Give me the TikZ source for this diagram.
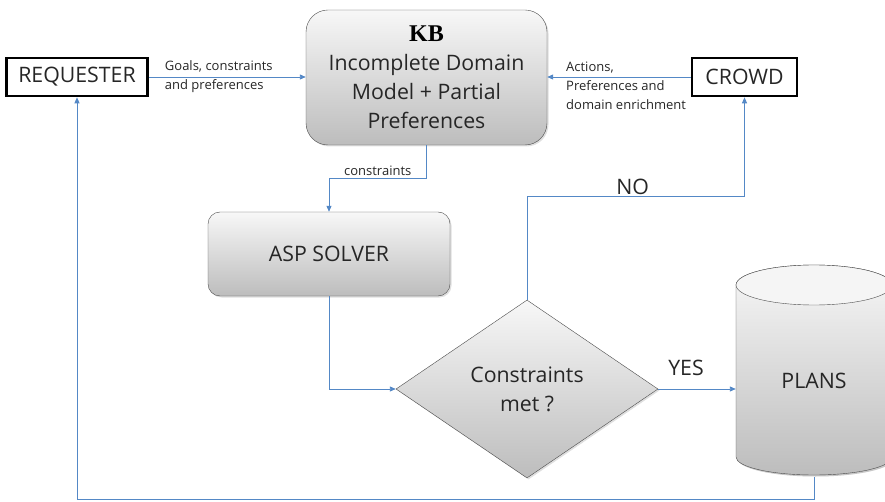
\documentclass[tikz,border=0pt]{standalone}
\usepackage{fontspec}
\setmainfont{Open Sans}
\newfontfamily\kbfont{Liberation Serif}
\usetikzlibrary{arrows.meta,shapes.geometric,shadows,calc}
\definecolor{flow}{RGB}{84,136,198}

\begin{document}
\begin{tikzpicture}[x=1pt,y=-1pt,
  big/.style={font=\fontsize{21.3}{29}\selectfont,text=black!85},
  lbl/.style={font=\fontsize{13}{19}\selectfont,align=left,inner sep=0pt,text=black!85},
  actor/.style={draw,line width=2.6pt,big,inner sep=0pt,minimum height=38pt},
  shade/.style={draw=black!70,top color=gray!6,bottom color=gray!52,drop shadow={opacity=0.25,shadow xshift=1.5pt,shadow yshift=-1.5pt}},
  blk/.style={shade,rounded corners=#1,big,align=center},
  arr/.style={-{Triangle[length=6pt,width=5pt]},draw=flow,line width=0.9pt}]
\clip (0,0) rectangle (885,502);
\node[actor,minimum width=141pt] (req) at (77,77) {REQUESTER};
\node[actor,minimum width=105pt] (crowd) at (744.5,77) {CROWD};
\node[blk=22pt,minimum width=241pt,minimum height=135pt] (kb) at (426.5,77.5) {{\kbfont\bfseries\fontsize{24}{29}\selectfont\color{black} KB}\\Incomplete Domain\\Model + Partial\\Preferences};
\node[blk=12pt,minimum width=242pt,minimum height=84pt] (asp) at (329,254) {ASP SOLVER};
\node[shade,diamond,aspect=1.47,minimum width=262pt,minimum height=178pt,inner sep=0pt,big,align=center] (chk) at (527,389) {Constraints\\met ?};
% plans store
\shade[shade] (736,285) -- (736,457) arc[start angle=180,end angle=360,x radius=78pt,y radius=18pt] -- (892,285) arc[start angle=0,end angle=180,x radius=78pt,y radius=20pt] -- cycle;
\draw[black!70,fill=gray!8] (736,285) arc[start angle=180,end angle=-180,x radius=78pt,y radius=20pt];
\node[big,minimum width=156pt,minimum height=192pt] (plans) at (814,381) {PLANS};
\draw[arr] (req.east) -- node[lbl,anchor=west,pos=0.1]{Goals, constraints\\and preferences} (req.east -| kb.west);
\draw[arr] (crowd.west) -- (crowd.west -| kb.east);
\node[lbl,anchor=north west] (crowdlbl) at (566,62) {Actions,\\Preferences and\\domain enrichment};
\draw[arr] (kb.south) -- ++(0,33) -| node[pos=0.25,above,font=\fontsize{13}{15}\selectfont,text=black!85,inner sep=2pt]{constraints} (asp.north);
\draw[arr] (asp.south) |- (chk.west);
\draw[arr] (chk.north) -- ++(0,-103) -| node[pos=0.25,above,big,inner sep=2pt,xshift=-3pt]{NO} (crowd.south);
\draw[arr] (chk.east) -- node[above=12pt,big,inner sep=1pt,xshift=-11pt]{YES} (chk.east -| plans.west);
\draw[arr] (plans.south) -- ++(0,22) -| (req.south);
\end{tikzpicture}
\end{document}
